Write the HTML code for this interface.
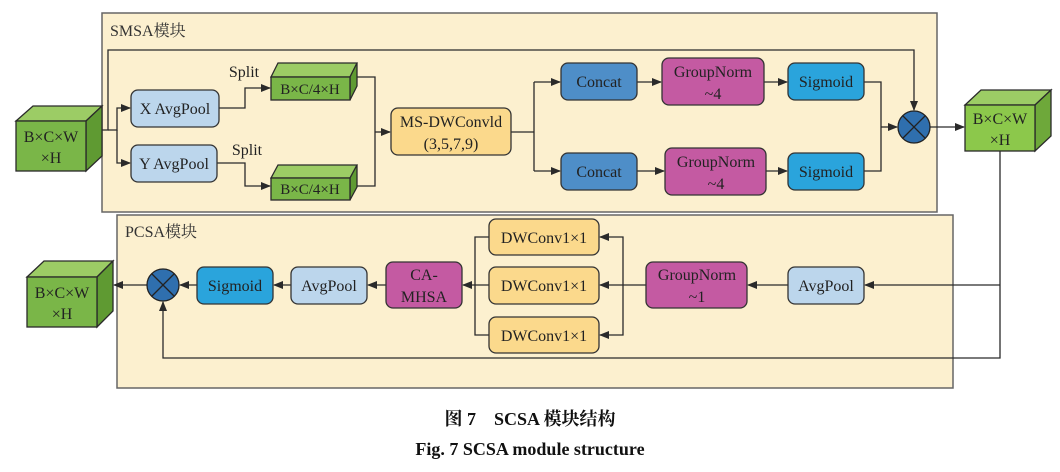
<!DOCTYPE html>
<html><head><meta charset="utf-8"><style>
html,body{margin:0;padding:0;background:#fff;}
svg{display:block;font-family:"Liberation Serif","Noto Serif CJK SC",serif;}
</style></head><body>
<svg width="1060" height="472" viewBox="0 0 1060 472" xmlns="http://www.w3.org/2000/svg">
<defs>
<marker id="a" markerWidth="10" markerHeight="8" refX="9" refY="4" orient="auto" markerUnits="userSpaceOnUse"><path d="M0,0 L10,4 L0,8 Z" fill="#2a2a2a"/></marker>
</defs>
<rect x="102" y="13" width="835" height="199" fill="#fcf0cf" stroke="#666" stroke-width="1.5"/>
<rect x="117" y="215" width="836" height="173" fill="#fcf0cf" stroke="#666" stroke-width="1.5"/>
<text x="110" y="36" font-size="16" fill="#333">SMSA模块</text>
<text x="125" y="237" font-size="16" fill="#333">PCSA模块</text>

<g stroke="#2a2a2a" stroke-width="1.3" fill="none">
<!-- SMSA lines -->
<path d="M102,130 H108 V50 H914 V110" marker-end="url(#a)"/>
<path d="M108,130 H117 V108 H130" marker-end="url(#a)"/>
<path d="M117,130 V163 H130" marker-end="url(#a)"/>
<path d="M219,108 H245 V88 H270" marker-end="url(#a)"/>
<path d="M217,163 H245 V186 H270" marker-end="url(#a)"/>
<path d="M357,77 H375 V186 H357"/>
<path d="M375,132 H390" marker-end="url(#a)"/>
<path d="M511,132 H534"/>
<path d="M534,82 V171"/>
<path d="M534,82 H560" marker-end="url(#a)"/>
<path d="M534,171 H560" marker-end="url(#a)"/>
<path d="M637,82 H661" marker-end="url(#a)"/>
<path d="M637,171 H664" marker-end="url(#a)"/>
<path d="M764,82 H787" marker-end="url(#a)"/>
<path d="M766,171 H787" marker-end="url(#a)"/>
<path d="M864,82 H881 V171 H864"/>
<path d="M881,127 H897" marker-end="url(#a)"/>
<path d="M930,127 H964" marker-end="url(#a)"/>
<!-- PCSA lines -->
<path d="M1000,151 V358 H163 V302" marker-end="url(#a)"/>
<path d="M1000,285 H865" marker-end="url(#a)"/>
<path d="M788,285 H748" marker-end="url(#a)"/>
<path d="M646,285 H600" marker-end="url(#a)"/>
<path d="M623,285 V237 H600" marker-end="url(#a)"/>
<path d="M623,285 V335 H600" marker-end="url(#a)"/>
<path d="M489,237 H475 V335 H489"/>
<path d="M489,285 H463" marker-end="url(#a)"/>
<path d="M386,285 H368" marker-end="url(#a)"/>
<path d="M291,285 H274" marker-end="url(#a)"/>
<path d="M197,285 H180" marker-end="url(#a)"/>
<path d="M147,285 H114" marker-end="url(#a)"/>
</g>

<!-- cubes -->
<g stroke="#2a2a2a" stroke-width="1.3">
<path d="M16,121 L33,106 H102 L86,121 Z" fill="#9ccc65"/>
<path d="M86,121 L102,106 V156 L86,171 Z" fill="#5f9a32"/>
<rect x="16" y="121" width="70" height="50" fill="#7ab648"/>

<path d="M271,77 L278,63 H357 L350,77 Z" fill="#9ccc65"/>
<path d="M350,77 L357,63 V86 L350,100 Z" fill="#5f9a32"/>
<rect x="271" y="77" width="79" height="23" fill="#7ab648"/>

<path d="M271,178 L278,165 H357 L350,178 Z" fill="#9ccc65"/>
<path d="M350,178 L357,165 V187 L350,200 Z" fill="#5f9a32"/>
<rect x="271" y="178" width="79" height="22" fill="#7ab648"/>

<path d="M965,105 L981,90 H1051 L1035,105 Z" fill="#9ccc65"/>
<path d="M1035,105 L1051,90 V136 L1035,151 Z" fill="#6ea83a"/>
<rect x="965" y="105" width="70" height="46" fill="#8cc84b"/>

<path d="M27,277 L44,261 H113 L97,277 Z" fill="#9ccc65"/>
<path d="M97,277 L113,261 V311 L97,327 Z" fill="#5f9a32"/>
<rect x="27" y="277" width="70" height="50" fill="#7ab648"/>
</g>

<!-- boxes -->
<g stroke="#333" stroke-width="1.3">
<rect x="131" y="90" width="88" height="37" rx="7" fill="#bcd6ec"/>
<rect x="131" y="145" width="86" height="37" rx="7" fill="#bcd6ec"/>
<rect x="391" y="108" width="120" height="47" rx="7" fill="#fbd98c"/>
<rect x="561" y="63" width="76" height="37" rx="7" fill="#4e8ec8"/>
<rect x="561" y="153" width="76" height="37" rx="7" fill="#4e8ec8"/>
<rect x="662" y="58" width="102" height="47" rx="7" fill="#c45aa2"/>
<rect x="665" y="148" width="101" height="47" rx="7" fill="#c45aa2"/>
<rect x="788" y="63" width="76" height="37" rx="7" fill="#2aa4dc"/>
<rect x="788" y="153" width="76" height="37" rx="7" fill="#2aa4dc"/>
<rect x="788" y="267" width="76" height="37" rx="7" fill="#bcd6ec"/>
<rect x="646" y="262" width="101" height="46" rx="7" fill="#c45aa2"/>
<rect x="489" y="219" width="110" height="36" rx="7" fill="#fbd98c"/>
<rect x="489" y="267" width="110" height="37" rx="7" fill="#fbd98c"/>
<rect x="489" y="317" width="110" height="36" rx="7" fill="#fbd98c"/>
<rect x="386" y="262" width="76" height="46" rx="7" fill="#c45aa2"/>
<rect x="291" y="267" width="76" height="37" rx="7" fill="#bcd6ec"/>
<rect x="197" y="267" width="76" height="37" rx="7" fill="#2aa4dc"/>
</g>
<!-- circles -->
<g stroke="#222" stroke-width="1.3">
<circle cx="914" cy="127" r="16" fill="#2f6fae"/>
<path d="M903,116 L925,138 M925,116 L903,138"/>
<circle cx="163" cy="285" r="16" fill="#2f6fae"/>
<path d="M152,274 L174,296 M174,274 L152,296"/>
</g>

<g font-size="16" fill="#222" text-anchor="middle">
<text x="51" y="142">B×C×W</text><text x="51" y="163">×H</text>
<text x="1000" y="124">B×C×W</text><text x="1000" y="145">×H</text>
<text x="62" y="298">B×C×W</text><text x="62" y="319">×H</text>
<text x="310" y="94" font-size="15">B×C/4×H</text>
<text x="310" y="194" font-size="15">B×C/4×H</text>
<text x="244" y="77">Split</text>
<text x="247" y="155">Split</text>
<text x="175" y="114">X AvgPool</text>
<text x="174" y="169">Y AvgPool</text>
<text x="451" y="127">MS-DWConvld</text><text x="451" y="149">(3,5,7,9)</text>
<text x="599" y="87">Concat</text><text x="599" y="177">Concat</text>
<text x="713" y="77">GroupNorm</text><text x="713" y="99">~4</text>
<text x="716" y="167">GroupNorm</text><text x="716" y="189">~4</text>
<text x="826" y="87">Sigmoid</text><text x="826" y="177">Sigmoid</text>
<text x="826" y="291">AvgPool</text>
<text x="697" y="280">GroupNorm</text><text x="697" y="302">~1</text>
<text x="544" y="243">DWConv1×1</text>
<text x="544" y="291">DWConv1×1</text>
<text x="544" y="341">DWConv1×1</text>
<text x="424" y="280">CA-</text><text x="424" y="302">MHSA</text>
<text x="329" y="291">AvgPool</text>
<text x="235" y="291">Sigmoid</text>
</g>
<g font-weight="bold" fill="#111" text-anchor="middle">
<text x="530" y="425" font-size="18">图 7　SCSA 模块结构</text>
<text x="530" y="455" font-size="18">Fig.  7   SCSA  module  structure</text>
</g>
</svg>
</body></html>
